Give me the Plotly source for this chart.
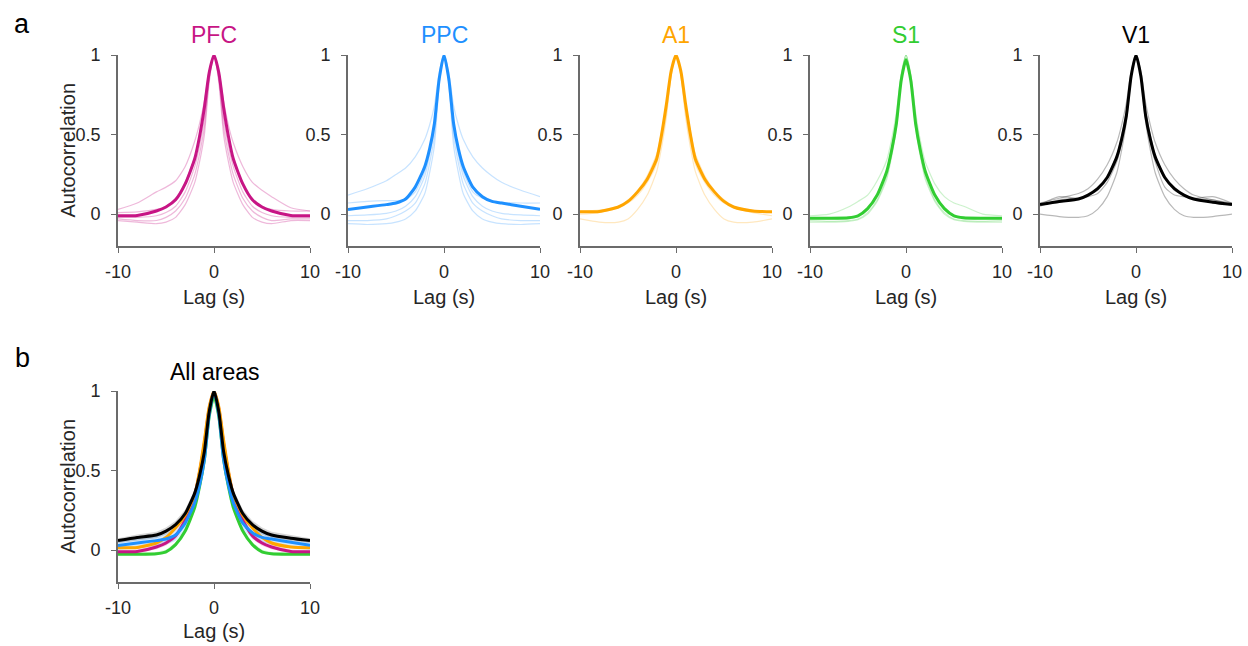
import plotly.graph_objects as go

# ---------------- data ----------------
lags = [-10, -8, -6, -5, -4, -3, -2, -1.5, -1, -0.5, 0, 0.5, 1, 1.5, 2, 3, 4, 5, 6, 8, 10]

areas = ["PFC", "PPC", "A1", "S1", "V1"]
colors = {"PFC": "#C71585", "PPC": "#1E90FF", "A1": "#FFA500", "S1": "#32CD32", "V1": "#000000"}
thin_colors = {"PFC": "rgba(199,21,133,0.30)", "PPC": "rgba(30,144,255,0.25)",
               "A1": "rgba(255,165,0,0.25)", "S1": "rgba(50,205,50,0.25)", "V1": "rgba(0,0,0,0.28)"}
band_colors = {"PFC": "rgba(199,21,133,0.18)", "PPC": "rgba(30,144,255,0.18)",
               "A1": "rgba(255,165,0,0.18)", "S1": "rgba(50,205,50,0.18)", "V1": "rgba(0,0,0,0.16)"}

pfc_mean = [-0.01, -0.008, 0.02, 0.045, 0.09, 0.19, 0.35, 0.49, 0.67, 0.89, 1.0, 0.89, 0.67, 0.49, 0.35, 0.19, 0.09, 0.045, 0.02, -0.008, -0.01]
pfc_1 = [0.03, 0.07, 0.14, 0.17, 0.21, 0.3, 0.46, 0.57, 0.71, 0.9, 1.0, 0.9, 0.71, 0.56, 0.45, 0.3, 0.2, 0.15, 0.11, 0.04, 0.02]
pfc_2 = [0.01, 0.015, 0.03, 0.05, 0.1, 0.2, 0.36, 0.5, 0.68, 0.89, 1.0, 0.89, 0.68, 0.49, 0.35, 0.19, 0.09, 0.05, 0.03, 0.02, 0.02]
pfc_3 = [-0.02, -0.02, -0.01, 0.01, 0.05, 0.14, 0.3, 0.43, 0.6, 0.87, 1.0, 0.87, 0.6, 0.43, 0.3, 0.14, 0.05, 0.01, -0.01, -0.02, -0.02]
pfc_4 = [-0.03, -0.04, -0.04, -0.02, 0.02, 0.1, 0.25, 0.38, 0.55, 0.85, 1.0, 0.85, 0.55, 0.38, 0.25, 0.1, 0.02, -0.02, -0.04, -0.03, -0.03]
pfc_5 = [-0.04, -0.05, -0.06, -0.05, -0.02, 0.06, 0.2, 0.33, 0.5, 0.83, 1.0, 0.83, 0.5, 0.33, 0.2, 0.06, -0.02, -0.05, -0.06, -0.04, -0.04]

ppc_mean = [0.03, 0.045, 0.06, 0.07, 0.095, 0.17, 0.3, 0.41, 0.57, 0.85, 1.0, 0.85, 0.57, 0.41, 0.3, 0.17, 0.11, 0.08, 0.07, 0.05, 0.03]
ppc_1 = [0.12, 0.16, 0.21, 0.25, 0.29, 0.36, 0.47, 0.56, 0.68, 0.89, 1.0, 0.89, 0.68, 0.56, 0.47, 0.36, 0.29, 0.24, 0.2, 0.15, 0.11]
ppc_2 = [0.07, 0.08, 0.085, 0.085, 0.09, 0.14, 0.27, 0.4, 0.57, 0.86, 1.0, 0.86, 0.57, 0.4, 0.27, 0.14, 0.1, 0.08, 0.075, 0.07, 0.07]
ppc_3 = [-0.01, -0.005, 0.005, 0.02, 0.05, 0.11, 0.24, 0.37, 0.54, 0.85, 1.0, 0.85, 0.54, 0.37, 0.24, 0.11, 0.05, 0.02, 0.005, -0.005, -0.01]
ppc_4 = [-0.04, -0.04, -0.03, -0.01, 0.02, 0.07, 0.19, 0.32, 0.49, 0.83, 1.0, 0.83, 0.49, 0.32, 0.19, 0.07, 0.02, -0.01, -0.03, -0.04, -0.04]
ppc_5 = [-0.06, -0.065, -0.06, -0.05, -0.03, 0.02, 0.13, 0.26, 0.43, 0.81, 1.0, 0.81, 0.43, 0.26, 0.13, 0.02, -0.03, -0.05, -0.06, -0.065, -0.06]

a1_mean = [0.015, 0.017, 0.045, 0.08, 0.14, 0.22, 0.35, 0.5, 0.69, 0.9, 1.0, 0.9, 0.69, 0.5, 0.35, 0.22, 0.14, 0.08, 0.045, 0.02, 0.015]
a1_1 = [0.02, 0.025, 0.05, 0.09, 0.15, 0.24, 0.38, 0.52, 0.7, 0.9, 1.0, 0.9, 0.7, 0.52, 0.38, 0.24, 0.15, 0.09, 0.05, 0.025, 0.01]
a1_2 = [-0.03, -0.05, -0.05, -0.03, 0.03, 0.12, 0.27, 0.42, 0.61, 0.87, 1.0, 0.87, 0.61, 0.42, 0.27, 0.12, 0.03, -0.03, -0.05, -0.05, -0.03]
a1_3 = [0.0, 0.01, 0.04, 0.07, 0.12, 0.2, 0.32, 0.46, 0.64, 0.88, 1.0, 0.88, 0.64, 0.46, 0.32, 0.2, 0.12, 0.07, 0.04, 0.01, -0.01]

s1_mean = [-0.025, -0.025, -0.022, -0.01, 0.035, 0.12, 0.27, 0.4, 0.57, 0.84, 0.97, 0.84, 0.57, 0.4, 0.27, 0.12, 0.035, -0.01, -0.022, -0.025, -0.025]
s1_1 = [-0.01, 0.0, 0.045, 0.08, 0.12, 0.21, 0.34, 0.47, 0.64, 0.88, 1.0, 0.88, 0.64, 0.46, 0.33, 0.19, 0.11, 0.07, 0.05, 0.0, -0.01]
s1_2 = [-0.04, -0.045, -0.04, -0.03, 0.01, 0.09, 0.24, 0.38, 0.56, 0.85, 1.0, 0.85, 0.56, 0.38, 0.24, 0.09, 0.01, -0.03, -0.04, -0.045, -0.04]
s1_3 = [-0.05, -0.05, -0.045, -0.035, 0.0, 0.08, 0.22, 0.36, 0.54, 0.84, 0.98, 0.84, 0.54, 0.36, 0.22, 0.08, 0.0, -0.035, -0.045, -0.05, -0.05]
s1_4 = [-0.03, -0.03, -0.03, -0.015, 0.03, 0.12, 0.28, 0.42, 0.6, 0.87, 1.0, 0.87, 0.6, 0.42, 0.28, 0.12, 0.03, -0.015, -0.03, -0.03, -0.03]

v1_mean = [0.06, 0.08, 0.095, 0.12, 0.16, 0.23, 0.36, 0.47, 0.62, 0.87, 1.0, 0.87, 0.62, 0.47, 0.36, 0.23, 0.16, 0.12, 0.095, 0.075, 0.06]
v1_1 = [0.0, -0.015, -0.02, -0.01, 0.03, 0.11, 0.26, 0.4, 0.58, 0.86, 1.0, 0.86, 0.58, 0.4, 0.26, 0.11, 0.03, -0.01, -0.02, -0.015, 0.0]
v1_2 = [0.07, 0.1, 0.13, 0.16, 0.22, 0.31, 0.45, 0.56, 0.7, 0.9, 1.0, 0.9, 0.7, 0.56, 0.45, 0.31, 0.22, 0.16, 0.12, 0.09, 0.07]
v1_3 = [0.06, 0.11, 0.1, 0.11, 0.13, 0.2, 0.33, 0.45, 0.61, 0.87, 1.0, 0.87, 0.61, 0.45, 0.33, 0.17, 0.12, 0.11, 0.1, 0.11, 0.07]
v1_4 = [0.05, 0.09, 0.1, 0.12, 0.15, 0.23, 0.37, 0.49, 0.65, 0.88, 1.0, 0.88, 0.65, 0.49, 0.37, 0.23, 0.15, 0.12, 0.1, 0.09, 0.06]

# standard error around the means (panel b)
pfc_sem = [0.01, 0.012, 0.015, 0.018, 0.02, 0.025, 0.025, 0.02, 0.02, 0.01, 0.0, 0.01, 0.02, 0.02, 0.025, 0.025, 0.02, 0.018, 0.015, 0.012, 0.01]
ppc_sem = [0.03, 0.03, 0.032, 0.035, 0.038, 0.04, 0.04, 0.035, 0.03, 0.02, 0.0, 0.02, 0.03, 0.035, 0.04, 0.04, 0.038, 0.035, 0.032, 0.03, 0.03]
a1_sem = [0.01, 0.01, 0.012, 0.013, 0.015, 0.015, 0.015, 0.012, 0.01, 0.008, 0.0, 0.008, 0.01, 0.012, 0.015, 0.015, 0.015, 0.013, 0.012, 0.01, 0.01]
s1_sem = [0.008, 0.008, 0.01, 0.012, 0.014, 0.016, 0.016, 0.015, 0.012, 0.01, 0.0, 0.01, 0.012, 0.015, 0.016, 0.016, 0.014, 0.012, 0.01, 0.008, 0.008]
v1_sem = [0.015, 0.018, 0.02, 0.022, 0.025, 0.025, 0.022, 0.02, 0.015, 0.01, 0.0, 0.01, 0.015, 0.02, 0.022, 0.025, 0.025, 0.022, 0.02, 0.018, 0.015]

means = {"PFC": pfc_mean, "PPC": ppc_mean, "A1": a1_mean, "S1": s1_mean, "V1": v1_mean}
thins = {"PFC": [pfc_1, pfc_2, pfc_3, pfc_4, pfc_5],
         "PPC": [ppc_1, ppc_2, ppc_3, ppc_4, ppc_5],
         "A1": [a1_1, a1_2, a1_3],
         "S1": [s1_1, s1_2, s1_3, s1_4],
         "V1": [v1_1, v1_2, v1_3, v1_4]}
sems = {"PFC": pfc_sem, "PPC": ppc_sem, "A1": a1_sem, "S1": s1_sem, "V1": v1_sem}

x_ticks = [-10, 0, 10]
x_ticktext = ["-10", "0", "10"]
y_ticks = [0, 0.5, 1]
y_ticktext = ["0", "0.5", "1"]

# ---------------- layout ----------------
W, H = 1248, 646
FONT = "Liberation Sans, Arial, Helvetica, sans-serif"

def px_x(p):
    return p / W

def px_y(p):
    return 1 - p / H

x_dom_px = {"PFC": (118, 310), "PPC": (348, 540), "A1": (580, 772), "S1": (810, 1002), "V1": (1040, 1232)}
row_a_y = (55, 246)
row_b_y = (391, 582)

fig = go.Figure()
line_shape = dict(shape="spline", smoothing=0.6)

axis_common = dict(showgrid=False, zeroline=False, showline=True, linecolor="#6b6b6b", linewidth=1.6,
                   ticks="outside", ticklen=5, tickwidth=1.3, tickcolor="#6b6b6b", automargin=False,
                   tickfont=dict(family=FONT, size=18, color="#262626"), mirror=False)

for i, a in enumerate(areas):
    n = i + 1
    xa = "x" if n == 1 else f"x{n}"
    ya = "y" if n == 1 else f"y{n}"
    for t in thins[a]:
        fig.add_trace(go.Scatter(x=lags, y=t, mode="lines", xaxis=xa, yaxis=ya,
                                 line=dict(color=thin_colors[a], width=1.2, **line_shape),
                                 hoverinfo="skip", showlegend=False))
    fig.add_trace(go.Scatter(x=lags, y=means[a], mode="lines", xaxis=xa, yaxis=ya,
                             line=dict(color=colors[a], width=3, **line_shape),
                             showlegend=False, name=a))
    x0, x1 = x_dom_px[a]
    fig.layout[f"xaxis{'' if n == 1 else n}"] = dict(
        domain=[px_x(x0), px_x(x1)], anchor=ya, range=[-10, 10],
        tickvals=x_ticks, ticktext=x_ticktext, ticklabelstandoff=4, **axis_common)
    fig.layout[f"yaxis{'' if n == 1 else n}"] = dict(
        domain=[px_y(row_a_y[1]), px_y(row_a_y[0])], anchor=xa, range=[-0.2, 1],
        tickvals=y_ticks, ticktext=y_ticktext, ticklabelstandoff=7, **axis_common)
    fig.add_annotation(text=a, x=(px_x(x0) + px_x(x1)) / 2, y=px_y(35.5), xref="paper", yref="paper",
                       showarrow=False, xanchor="center", yanchor="middle",
                       font=dict(family=FONT, size=23, color=colors[a]))
    fig.add_annotation(text="Lag (s)", x=(px_x(x0) + px_x(x1)) / 2, y=px_y(297), xref="paper", yref="paper",
                       showarrow=False, xanchor="center", yanchor="middle",
                       font=dict(family=FONT, size=20, color="#262626"))

# panel b
for a in ["S1", "PFC", "A1", "PPC", "V1"]:
    upper = [m + s for m, s in zip(means[a], sems[a])]
    lower = [m - s for m, s in zip(means[a], sems[a])]
    fig.add_trace(go.Scatter(x=lags + lags[::-1], y=upper + lower[::-1], mode="lines",
                             xaxis="x6", yaxis="y6", fill="toself", fillcolor=band_colors[a],
                             line=dict(width=0, color=band_colors[a]), hoverinfo="skip", showlegend=False))
for a in ["S1", "PFC", "A1", "PPC", "V1"]:
    fig.add_trace(go.Scatter(x=lags, y=means[a], mode="lines", xaxis="x6", yaxis="y6",
                             line=dict(color=colors[a], width=3, **line_shape),
                             showlegend=False, name=a))
fig.layout["xaxis6"] = dict(domain=[px_x(118), px_x(310)], anchor="y6", range=[-10, 10],
                            tickvals=x_ticks, ticktext=x_ticktext, ticklabelstandoff=4, **axis_common)
fig.layout["yaxis6"] = dict(domain=[px_y(row_b_y[1]), px_y(row_b_y[0])], anchor="x6", range=[-0.2, 1],
                            tickvals=y_ticks, ticktext=y_ticktext, ticklabelstandoff=7, **axis_common)

fig.add_annotation(text="All areas", x=px_x(214), y=px_y(372), xref="paper", yref="paper",
                   showarrow=False, xanchor="center", yanchor="middle",
                   font=dict(family=FONT, size=23, color="#000000"))
fig.add_annotation(text="Lag (s)", x=px_x(214), y=px_y(631), xref="paper", yref="paper",
                   showarrow=False, xanchor="center", yanchor="middle",
                   font=dict(family=FONT, size=20, color="#262626"))

for yc in [(row_a_y[0] + row_a_y[1]) / 2, (row_b_y[0] + row_b_y[1]) / 2]:
    fig.add_annotation(text="Autocorrelation", x=px_x(67), y=px_y(yc), xref="paper", yref="paper",
                       showarrow=False, xanchor="center", yanchor="middle", textangle=-90,
                       font=dict(family=FONT, size=20, color="#262626"))

fig.add_annotation(text="a", x=px_x(22), y=px_y(24), xref="paper", yref="paper", showarrow=False,
                   xanchor="center", yanchor="middle", font=dict(family=FONT, size=27, color="#000000"))
fig.add_annotation(text="b", x=px_x(22), y=px_y(358), xref="paper", yref="paper", showarrow=False,
                   xanchor="center", yanchor="middle", font=dict(family=FONT, size=27, color="#000000"))

fig.update_layout(width=W, height=H, margin=dict(l=0, r=0, t=0, b=0, autoexpand=False),
                  paper_bgcolor="white", plot_bgcolor="white", showlegend=False,
                  template="none", font=dict(family=FONT))

fig.write_html("out.html", config={"displayModeBar": False},
               post_script="document.body.style.margin='0px';document.body.style.overflow='hidden';")
